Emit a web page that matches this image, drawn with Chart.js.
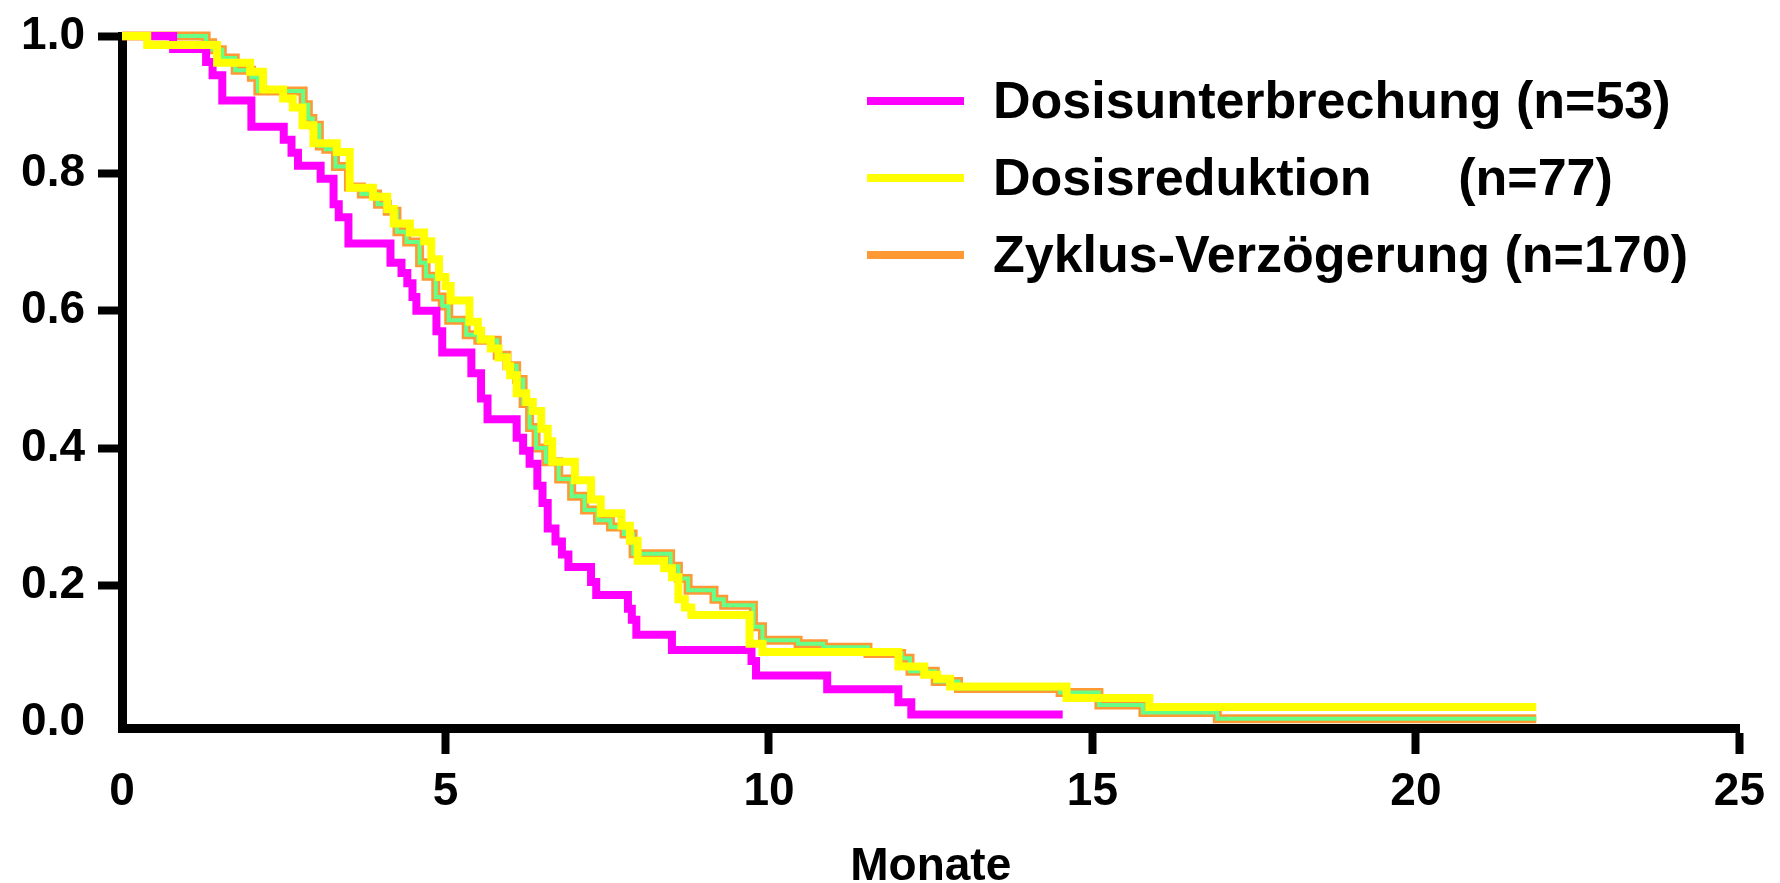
<!DOCTYPE html>
<html>
<head>
<meta charset="utf-8">
<title>Monate</title>
<script src="https://cdn.jsdelivr.net/npm/chart.js@4.4.1/dist/chart.umd.min.js"></script>
<style>
  html, body { margin: 0; padding: 0; background: #fff; }
  #wrap { width: 1780px; height: 883px; }
</style>
</head>
<body>
<div id="wrap"><canvas id="km" width="1780" height="883"></canvas></div>
<script>
// Werte (Kaplan-Meier, Stufen)
const labels = [
  "Dosisunterbrechung (n=53)",
  "Dosisreduktion      (n=77)",
  "Zyklus-Verzögerung (n=170)",
];

const unterbrechungMonate = [0, 0.79, 1.3, 1.4, 1.55, 2.0, 2.5, 2.62, 2.72, 3.07, 3.27, 3.35, 3.5, 4.15, 4.32, 4.41, 4.49, 4.55, 4.86, 4.95, 5.4, 5.55, 5.65, 6.1, 6.2, 6.3, 6.42, 6.5, 6.58, 6.7, 6.8, 6.9, 7.25, 7.33, 7.82, 7.88, 7.95, 8.5, 9.73, 9.8, 10.9, 12.0, 12.2, 14.54];
const unterbrechungWerte = [1, 0.981, 0.962, 0.943, 0.906, 0.868, 0.849, 0.83, 0.811, 0.792, 0.755, 0.736, 0.698, 0.67, 0.655, 0.64, 0.62, 0.6, 0.57, 0.539, 0.509, 0.472, 0.442, 0.415, 0.396, 0.377, 0.345, 0.32, 0.283, 0.264, 0.245, 0.227, 0.205, 0.186, 0.166, 0.15, 0.128, 0.106, 0.09, 0.069, 0.049, 0.03, 0.012, 0.012];

const reduktionMonate = [0, 0.39, 1.47, 1.98, 2.18, 2.49, 2.64, 2.79, 2.96, 3.32, 3.52, 3.88, 4.1, 4.2, 4.45, 4.67, 4.78, 4.9, 5.0, 5.08, 5.37, 5.5, 5.55, 5.7, 5.82, 5.95, 6.0, 6.1, 6.25, 6.35, 6.48, 6.58, 6.65, 7.0, 7.25, 7.4, 7.72, 7.85, 7.97, 8.38, 8.5, 8.6, 8.7, 8.8, 9.7, 9.9, 12.0, 12.4, 12.6, 12.8, 14.6, 15.88, 21.86];
const reduktionWerte = [1, 0.987, 0.961, 0.948, 0.922, 0.909, 0.896, 0.870, 0.844, 0.831, 0.779, 0.766, 0.748, 0.727, 0.714, 0.701, 0.675, 0.649, 0.636, 0.615, 0.584, 0.571, 0.558, 0.545, 0.532, 0.519, 0.506, 0.48, 0.467, 0.454, 0.428, 0.41, 0.38, 0.353, 0.325, 0.305, 0.287, 0.265, 0.236, 0.225, 0.212, 0.18, 0.168, 0.157, 0.115, 0.103, 0.082, 0.07, 0.064, 0.053, 0.036, 0.023, 0.023];

const verzoegerungMonate = [0, 1.3, 1.4, 1.55, 1.75, 2.0, 2.1, 2.8, 2.88, 2.95, 3.05, 3.15, 3.3, 3.5, 3.7, 3.95, 4.1, 4.25, 4.4, 4.6, 4.7, 4.85, 4.95, 5.05, 5.32, 5.5, 5.8, 5.95, 6.1, 6.2, 6.3, 6.4, 6.55, 6.75, 6.95, 7.15, 7.35, 7.55, 7.76, 7.9, 8.48, 8.6, 8.75, 9.15, 9.3, 9.76, 9.9, 10.45, 10.84, 11.53, 12.05, 12.18, 12.57, 12.93, 14.5, 15.1, 15.78, 16.93, 21.86];
const verzoegerungWerte = [1, 0.99, 0.98, 0.968, 0.95, 0.94, 0.92, 0.90, 0.88, 0.87, 0.84, 0.835, 0.81, 0.78, 0.77, 0.755, 0.745, 0.715, 0.70, 0.67, 0.65, 0.62, 0.607, 0.586, 0.565, 0.557, 0.535, 0.52, 0.50, 0.465, 0.43, 0.40, 0.38, 0.355, 0.33, 0.31, 0.295, 0.285, 0.275, 0.246, 0.228, 0.21, 0.193, 0.18, 0.171, 0.14, 0.12, 0.115, 0.11, 0.101, 0.094, 0.075, 0.06, 0.05, 0.044, 0.026, 0.015, 0.006, 0.006];

const xTicks = [0, 5, 10, 15, 20, 25];
const yTicks = [0, 0.2, 0.4, 0.6, 0.8, 1.0];

const FONT = "'Liberation Sans', Arial, sans-serif";

function toPoints(months, values) {
  return months.map((m, i) => ({ x: m, y: values[i] }));
}

// eigene Legende oben rechts, wie im Original
const kmLegend = {
  id: "kmLegend",
  afterDatasetsDraw(chart) {
    const ctx = chart.ctx;
    ctx.save();
    ctx.font = "bold 52px " + FONT;
    ctx.textBaseline = "middle";
    ctx.textAlign = "left";
    let row = 0;
    chart.data.datasets.forEach((ds) => {
      if (ds.noLegend) return;
      const y = 101 + row * 77;
      ctx.fillStyle = ds.borderColor;
      ctx.fillRect(867, y - 4, 97, 8);
      ctx.fillStyle = "#000";
      ctx.fillText(ds.label, 993, y + 3);
      row++;
    });
    ctx.restore();
  },
};

const hideZeroTick = (c) => (c.tick && c.tick.value === 0 ? "rgba(0,0,0,0)" : "#000");

new Chart(document.getElementById("km"), {
  type: "line",
  data: {
    datasets: [
      {
        label: labels[0],
        data: toPoints(unterbrechungMonate, unterbrechungWerte),
        borderColor: "#ff00ff",
        borderWidth: 8,
        order: 1,
      },
      {
        label: labels[1],
        data: toPoints(reduktionMonate, reduktionWerte),
        borderColor: "#ffff00",
        borderWidth: 8,
        order: 0,
      },
      {
        label: labels[2],
        data: toPoints(verzoegerungMonate, verzoegerungWerte),
        borderColor: "#ff9933",
        borderWidth: 9,
        order: 3,
      },
      {
        // grüne Innenlinie der Zyklus-Kurve
        label: "inner",
        noLegend: true,
        data: toPoints(verzoegerungMonate, verzoegerungWerte),
        borderColor: "#66ff88",
        borderWidth: 4,
        order: 2,
      },
    ],
  },
  options: {
    responsive: false,
    animation: false,
    events: [],
    layout: { padding: { top: 29, right: 37, left: 0, bottom: 0 } },
    elements: {
      line: { stepped: true, fill: false, borderJoinStyle: "miter", borderCapStyle: "butt" },
      point: { radius: 0 },
    },
    datasets: { line: { clip: false } },
    plugins: {
      legend: { display: false },
      tooltip: { enabled: false },
    },
    scales: {
      x: {
        type: "linear",
        min: 0,
        max: 25,
        afterBuildTicks: (s) => { s.ticks = xTicks.map((v) => ({ value: v })); },
        afterFit: (s) => { s.height = 155; },
        border: { display: true, color: "#000", width: 9 },
        grid: { drawOnChartArea: false, drawTicks: true, tickLength: 26, tickWidth: 8, tickColor: hideZeroTick },
        ticks: {
          color: "#000",
          padding: 15,
          maxRotation: 0,
          font: { family: FONT, size: 46, weight: "bold", lineHeight: 1 },
        },
        title: {
          display: true,
          text: "Monate",
          color: "#000",
          padding: { top: 0, bottom: 0 },
          font: { family: FONT, size: 46, weight: "bold", lineHeight: 0.7 },
        },
      },
      y: {
        type: "linear",
        min: -0.0076,
        max: 1,
        afterBuildTicks: (s) => { s.ticks = yTicks.map((v) => ({ value: v })); },
        afterFit: (s) => { s.width = 122; },
        border: { display: true, color: "#000", width: 9 },
        grid: { drawOnChartArea: false, drawTicks: true, tickLength: 24, tickWidth: 8, tickColor: hideZeroTick },
        ticks: {
          color: "#000",
          padding: 13,
          callback: (v) => Number(v).toFixed(1),
          font: { family: FONT, size: 46, weight: "bold", lineHeight: 1 },
        },
      },
    },
  },
  plugins: [kmLegend],
});
</script>
</body>
</html>
